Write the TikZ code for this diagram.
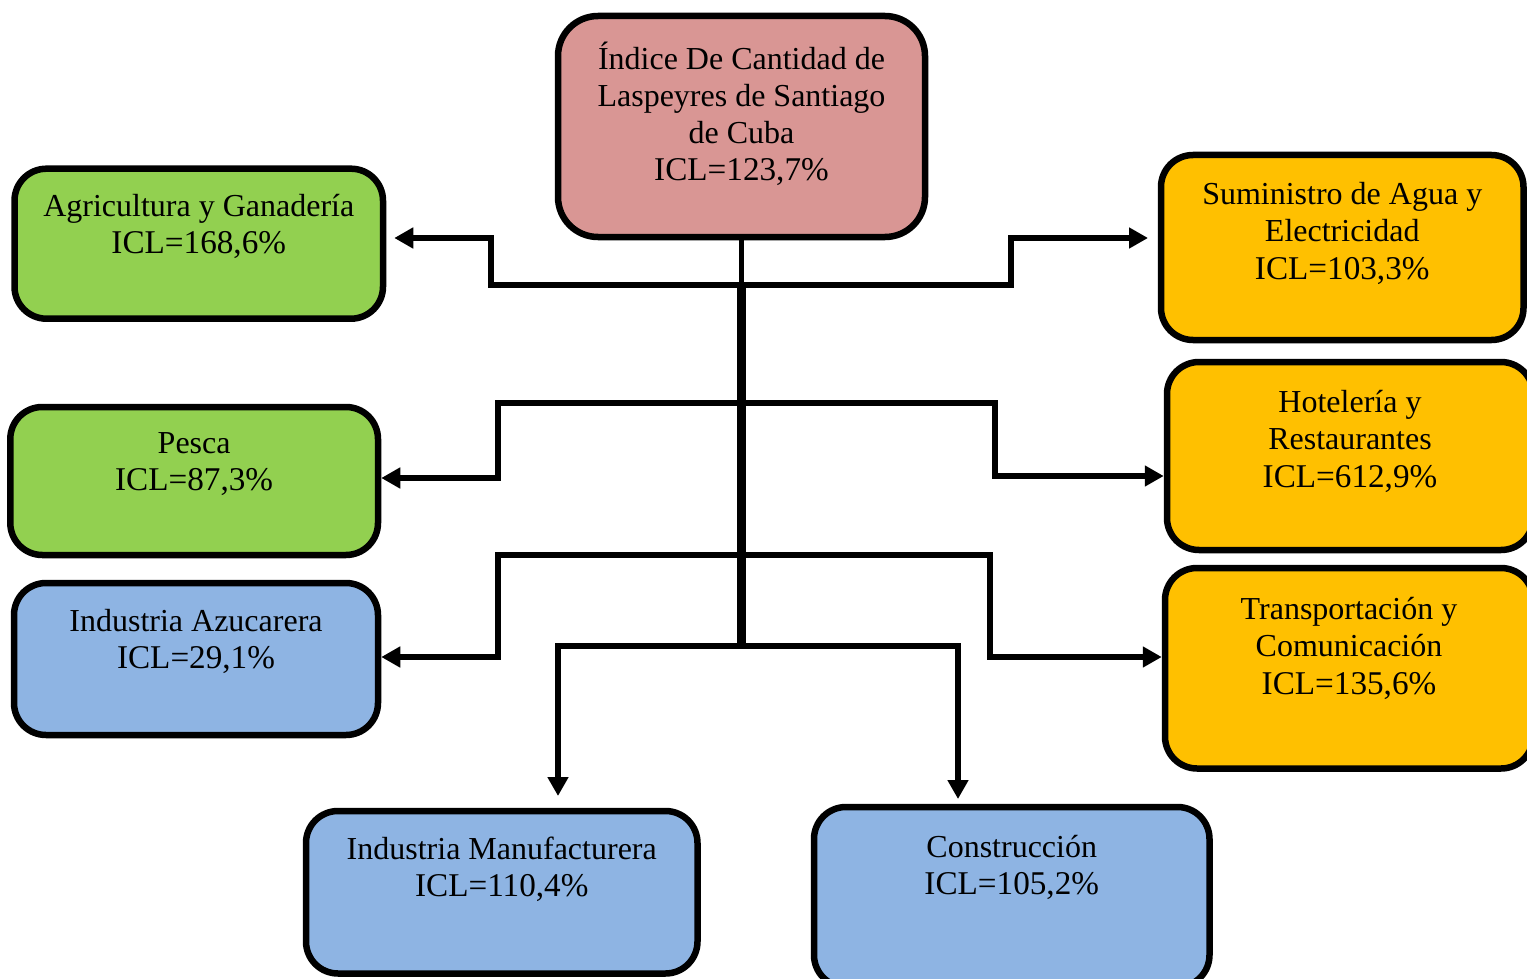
\documentclass[tikz,border=0pt]{standalone}
\usepackage{fontspec}
\setmainfont{Liberation Serif}
\usetikzlibrary{arrows.meta}
\definecolor{cpink}{HTML}{D99694}
\definecolor{cgreen}{HTML}{92D050}
\definecolor{cyellow}{HTML}{FFC000}
\definecolor{cblue}{HTML}{8EB4E3}
\newcommand\myicl{\fontsize{33.2}{37.5}\selectfont}
\begin{document}
\begin{tikzpicture}[x=1pt,y=-1pt,
  box/.style={draw=black, line width=6.5pt, rounded corners=32pt, inner sep=0pt},
  lbl/.style={anchor=north, yshift=26.25pt, align=center, inner sep=0pt, font=\fontsize{32}{37.5}\selectfont},
  conn/.style={line width=5.5pt},
  arr/.style={conn, -{Triangle[length=19pt,width=20pt]}}]
\useasboundingbox (0,0) rectangle (1527,979);
% boxes
\node[box, fill=cpink, rounded corners=40pt, minimum width=367pt, minimum height=221pt] (ctr) at (741.5,126.5) {};
\node[box, fill=cgreen, minimum width=368.5pt, minimum height=150pt] (agr) at (198.75,243.7) {};
\node[box, fill=cgreen, minimum width=367.7pt, minimum height=148pt] (pes) at (194.15,481) {};
\node[box, fill=cblue, minimum width=364pt, minimum height=152pt] (azu) at (196,659) {};
\node[box, fill=cblue, minimum width=391.5pt, minimum height=162.5pt] (man) at (501.75,892.25) {};
\node[box, fill=cblue, minimum width=395.5pt, minimum height=180pt] (con) at (1011.75,897) {};
\node[box, fill=cyellow, minimum width=362.5pt, minimum height=185pt] (sum) at (1342.25,247.5) {};
\node[box, fill=cyellow, minimum width=366pt, minimum height=188pt] (hot) at (1350,456) {};
\node[box, fill=cyellow, minimum width=368pt, minimum height=200.5pt] (tra) at (1349,668.25) {};
% labels
\node[lbl, yshift=-0.55pt, font=\fontsize{32}{36.7}\selectfont] (ctrT) at (741.5,68) {\strut Índice De Cantidad de\\ \strut Laspeyres de Santiago\\ \strut de Cuba\\ \strut\myicl ICL=123,7\%};
\node[lbl] (agrT) at (198.75,216) {\strut Agricultura y Ganadería\\ \strut\myicl ICL=168,6\%};
\node[lbl] (pesT) at (194.15,453) {\strut Pesca\\ \strut\myicl ICL=87,3\%};
\node[lbl] (azuT) at (196,631) {\strut Industria Azucarera\\ \strut\myicl ICL=29,1\%};
\node[lbl] (manT) at (501.75,859) {\strut Industria Manufacturera\\ \strut\myicl ICL=110,4\%};
\node[lbl] (conT) at (1011.75,857) {\strut Construcción\\ \strut\myicl ICL=105,2\%};
\node[lbl] (sumT) at (1342.25,204) {\strut Suministro de Agua y\\ \strut Electricidad\\ \strut\myicl ICL=103,3\%};
\node[lbl] (hotT) at (1350,412) {\strut Hotelería y\\ \strut Restaurantes\\ \strut\myicl ICL=612,9\%};
\node[lbl] (traT) at (1349,619) {\strut Transportación y\\ \strut Comunicación\\ \strut\myicl ICL=135,6\%};
% junctions on the trunk
\coordinate (j1) at (741.5,285);
\coordinate (j2) at (741.5,403);
\coordinate (j3) at (741.5,555);
\coordinate (j4) at (741.5,646);
% connectors
\draw[conn] (ctr.south) -- (j1);
\draw[arr] (j1) -- (491,285) |- ([xshift=8pt,yshift=5.7pt]agr.east);
\draw[arr] (j1) -- (1011,285) |- ([xshift=-9.75pt,yshift=9.5pt]sum.west);
\draw[arr] (j2) -- (498,403) |- ([yshift=3pt]pes.east);
\draw[arr] (j2) -- (995,403) |- ([yshift=-20pt]hot.west);
\draw[arr] (j3) -- (498,555) |- ([yshift=2pt]azu.east);
\draw[arr] (j3) -- (990,555) |- ([yshift=11.25pt]tra.west);
\draw[arr] (j4) -| ([xshift=56.25pt,yshift=11.75pt]man.north);
\draw[arr] (j4) -| ([xshift=-53.75pt,yshift=4.75pt]con.north);
\draw[line width=9pt] ([yshift=2pt]j1) -- ([yshift=-3pt]j4);
\end{tikzpicture}
\end{document}
